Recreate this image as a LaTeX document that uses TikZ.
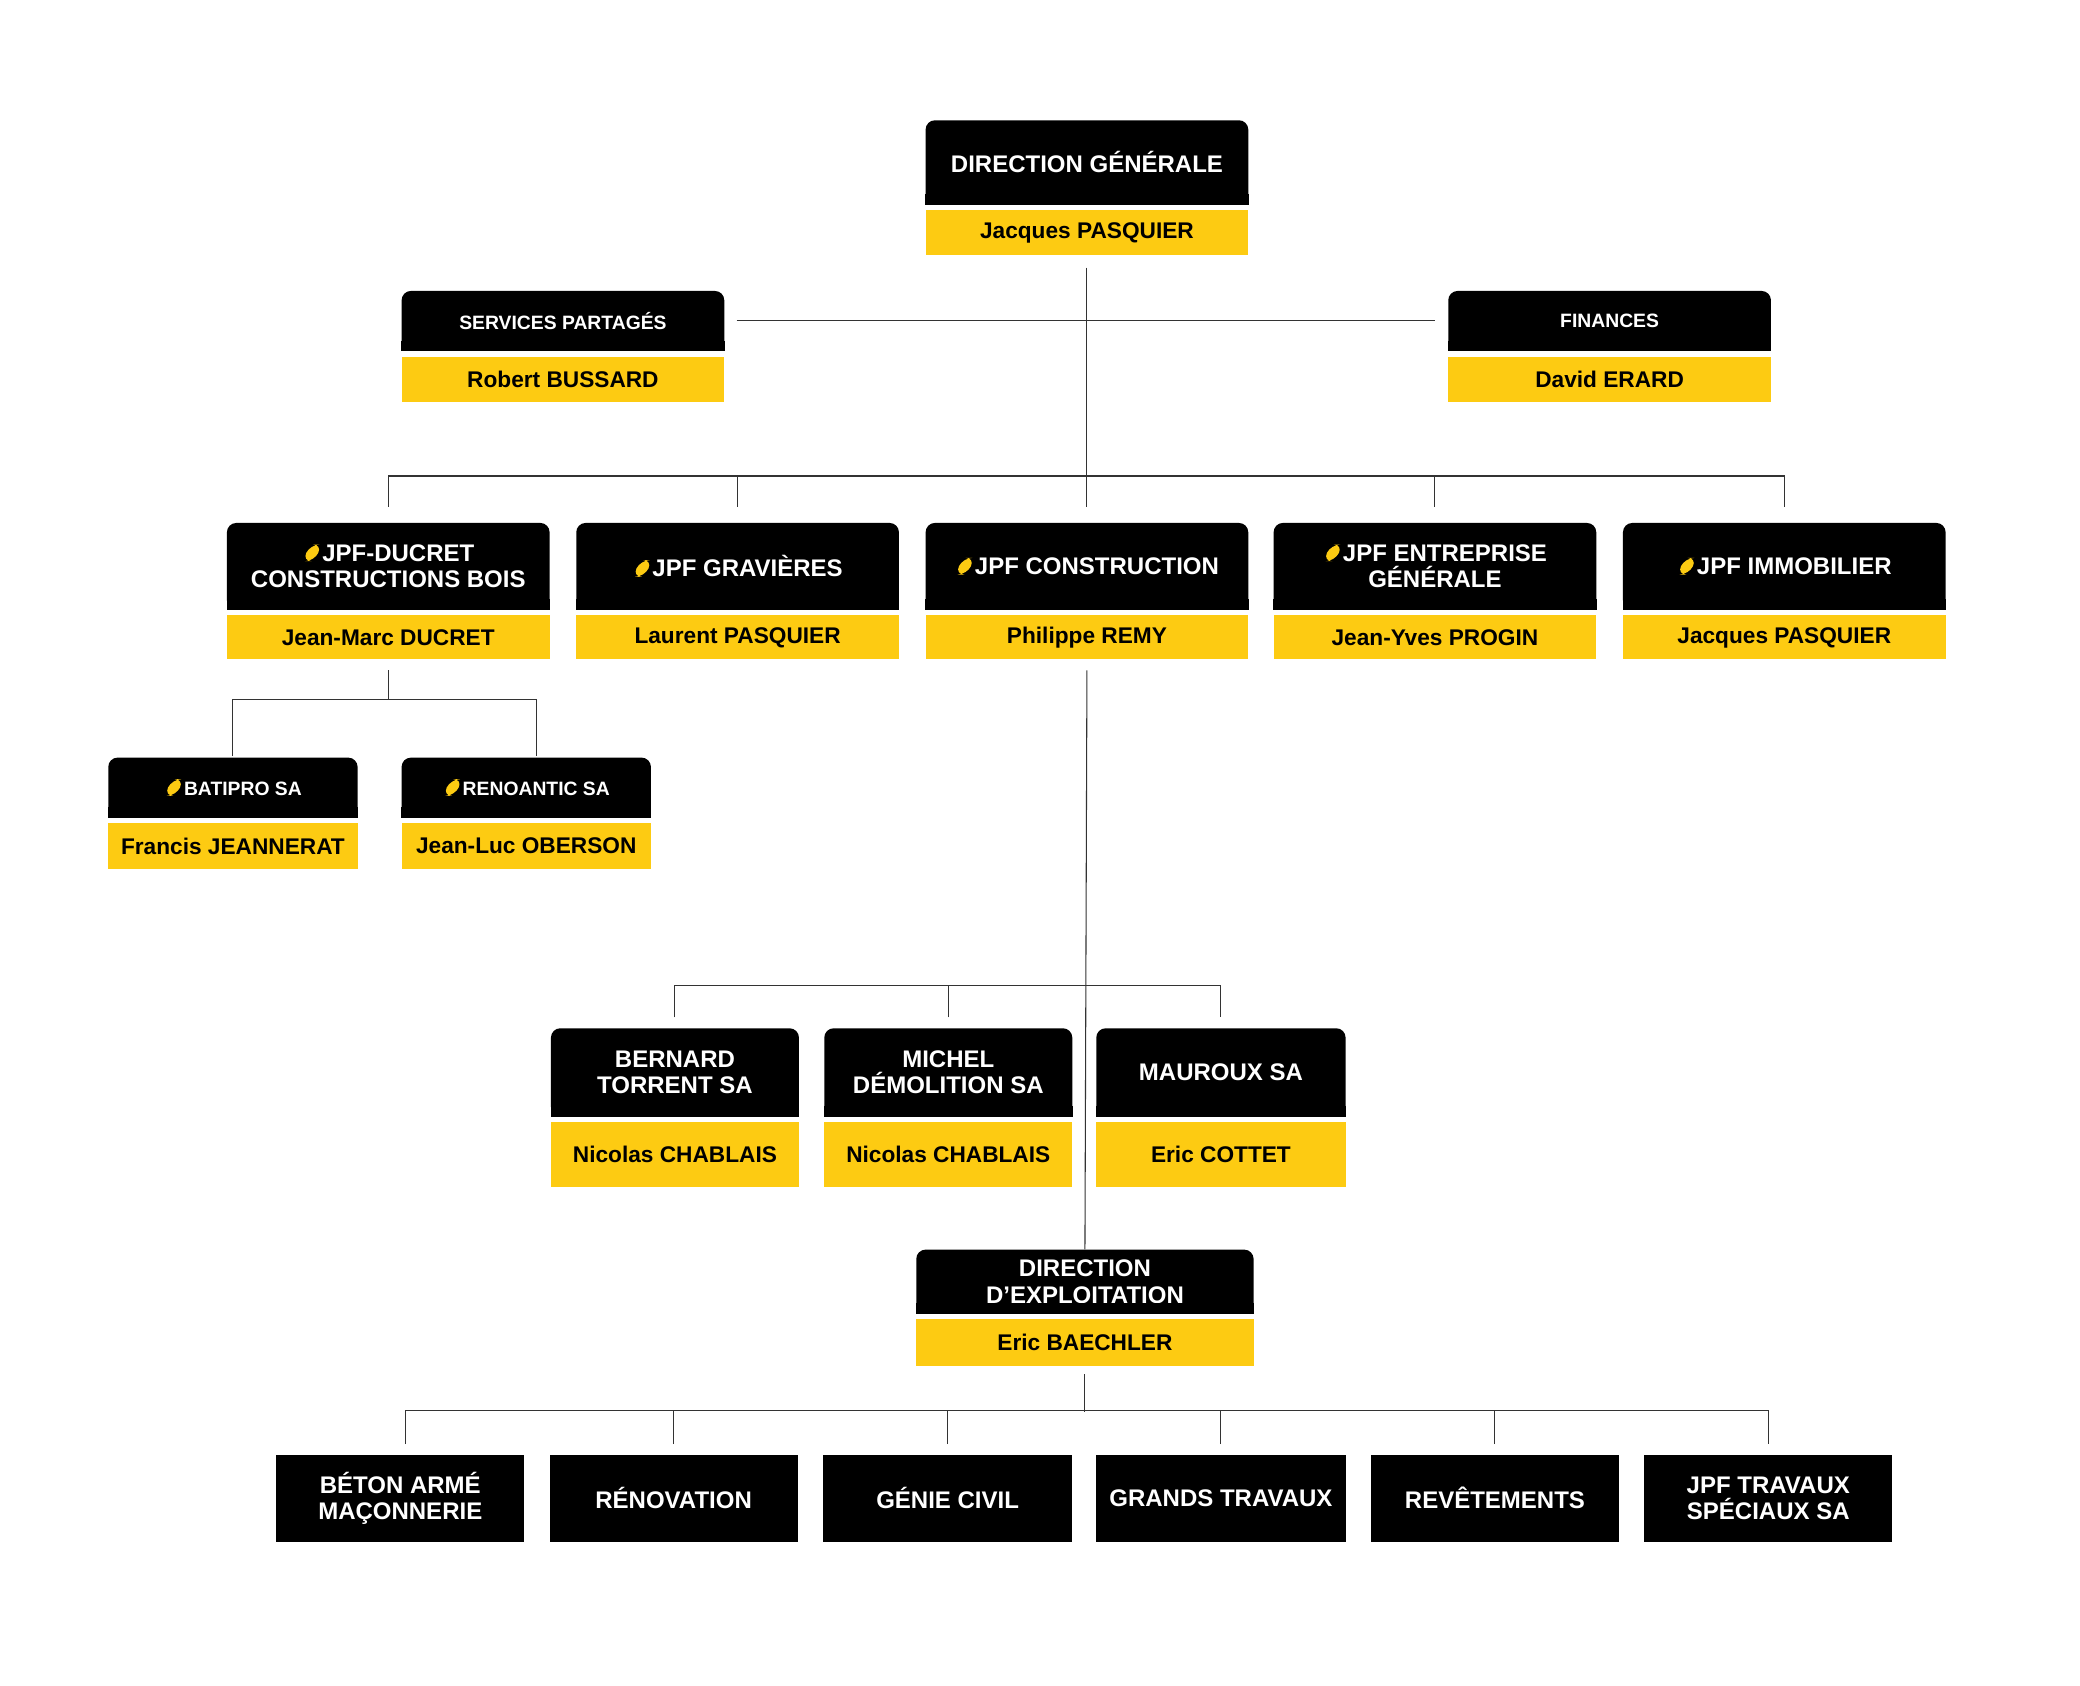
\documentclass[tikz,border=0pt]{standalone}
\usepackage{fontspec}
\setmainfont{Liberation Sans}
\usetikzlibrary{positioning}
\definecolor{jpfyellow}{HTML}{FDCB12}
\tikzset{
  blk/.style={fill=black, text=white, rounded corners=7pt, anchor=north west,
    align=center, inner sep=0pt, font=\fontsize{18}{20}\selectfont\bfseries},
  yel/.style={fill=jpfyellow, text=black, inner sep=0pt,
    font=\fontsize{17}{19}\selectfont\bfseries},
  small/.style={font=\fontsize{14.5}{16}\selectfont\bfseries},
  bus/.style={draw=black!80, line width=0.8pt}
}
\newcommand\jpf{\tikz[baseline=0pt]\fill[jpfyellow] (0pt,0pt)--(9pt,0pt)--(15pt,12.5pt)--(6pt,12.5pt)--cycle;}
% header + name block
\newcommand\unit[8]{%
  \node[blk, minimum width=#4pt, minimum height=#5pt] (#1K) at (#2,#3) {#7};
  \fill ([yshift=8pt]#1K.south west) rectangle (#1K.south east);
  \node[yel, minimum width=#4pt, minimum height=#6pt, below=4pt of #1K] (#1Y) {#8};}
\begin{document}
\begin{tikzpicture}[x=1pt, y=-1pt]
\useasboundingbox (0,0) rectangle (1560,1264);
\unit{dg}{694}{90}{242}{63}{34}{DIRECTION GÉNÉRALE}{Jacques PASQUIER}
\begin{scope}[blk/.append style={small}]
\unit{srv}{301}{218}{242}{45}{34}{SERVICES PARTAGÉS}{Robert BUSSARD}
\unit{fin}{1086}{218}{242}{45}{34}{FINANCES}{David ERARD}
\unit{bat}{81}{568}{187}{45}{34}{\jpf BATIPRO SA}{Francis JEANNERAT}
\unit{ren}{301}{568}{187}{45}{34}{\jpf RENOANTIC SA}{Jean-Luc OBERSON}
\end{scope}
\unit{duc}{170}{392}{242}{65}{33}{\jpf JPF-DUCRET\\CONSTRUCTIONS BOIS}{Jean-Marc DUCRET}
\unit{grv}{432}{392}{242}{65}{33}{\jpf JPF GRAVIÈRES}{Laurent PASQUIER}
\unit{cst}{694}{392}{242}{65}{33}{\jpf JPF CONSTRUCTION}{Philippe REMY}
\unit{eg}{955}{392}{242}{65}{33}{\jpf JPF ENTREPRISE\\GÉNÉRALE}{Jean-Yves PROGIN}
\unit{imm}{1217}{392}{242}{65}{33}{\jpf JPF IMMOBILIER}{Jacques PASQUIER}
\unit{brt}{413}{771}{186}{66}{49}{BERNARD\\TORRENT SA}{Nicolas CHABLAIS}
\unit{mic}{618}{771}{186}{66}{49}{MICHEL\\DÉMOLITION SA}{Nicolas CHABLAIS}
\unit{mau}{822}{771}{187}{66}{49}{MAUROUX SA}{Eric COTTET}
\unit{dex}{687}{937}{253}{48}{35}{DIRECTION\\D’EXPLOITATION}{Eric BAECHLER}
\node[blk, rounded corners=0pt, minimum width=186pt, minimum height=65pt] (ba) at (207,1091) {BÉTON ARMÉ\\MAÇONNERIE};
\node[blk, rounded corners=0pt, minimum width=186pt, minimum height=65pt] (rn) at (412,1091) {RÉNOVATION};
\node[blk, rounded corners=0pt, minimum width=187pt, minimum height=65pt] (gc) at (617,1091) {GÉNIE CIVIL};
\node[blk, rounded corners=0pt, minimum width=187pt, minimum height=65pt] (gt) at (822,1091) {GRANDS TRAVAUX};
\node[blk, rounded corners=0pt, minimum width=186pt, minimum height=65pt] (rv) at (1028,1091) {REVÊTEMENTS};
\node[blk, rounded corners=0pt, minimum width=186pt, minimum height=65pt] (ts) at (1233,1091) {JPF TRAVAUX\\SPÉCIAUX SA};
% connectors
\draw[bus] ([yshift=-9pt]dgY.south) -- ([yshift=12pt]cstK.north);
\draw[bus] ([xshift=9pt]srvK.east) -- ([xshift=-10pt]finK.west);
\draw[bus] ([yshift=12pt]ducK.north) -- ++(0,-23) -| ([yshift=12pt]immK.north);
\draw[bus] ([yshift=12pt]grvK.north) -- ++(0,-23);
\draw[bus] ([yshift=12pt]egK.north) -- ++(0,-23);
\draw[bus] ([yshift=-8pt]ducY.south) -- ++(0,22) coordinate (dj);
\draw[bus] ([yshift=1pt]batK.north) |- (dj) -| ([xshift=8pt,yshift=1pt]renK.north);
\draw[bus] ([yshift=-8pt]cstY.south) -- (dexK.north);
\draw[bus] ([yshift=8pt]brtK.north) -- ++(0,-24) -| ([yshift=8pt]mauK.north);
\draw[bus] ([yshift=8pt]micK.north) -- ++(0,-24);
\draw[bus] ([yshift=-6pt]dexY.south) -- ++(0,28);
\draw[bus] ([xshift=4pt,yshift=8pt]ba.north) -- ++(0,-25) -| ([yshift=8pt]ts.north);
\foreach \n in {rn,gc,gt,rv} \draw[bus] ([yshift=8pt]\n.north) -- ++(0,-25);
\end{tikzpicture}
\end{document}
